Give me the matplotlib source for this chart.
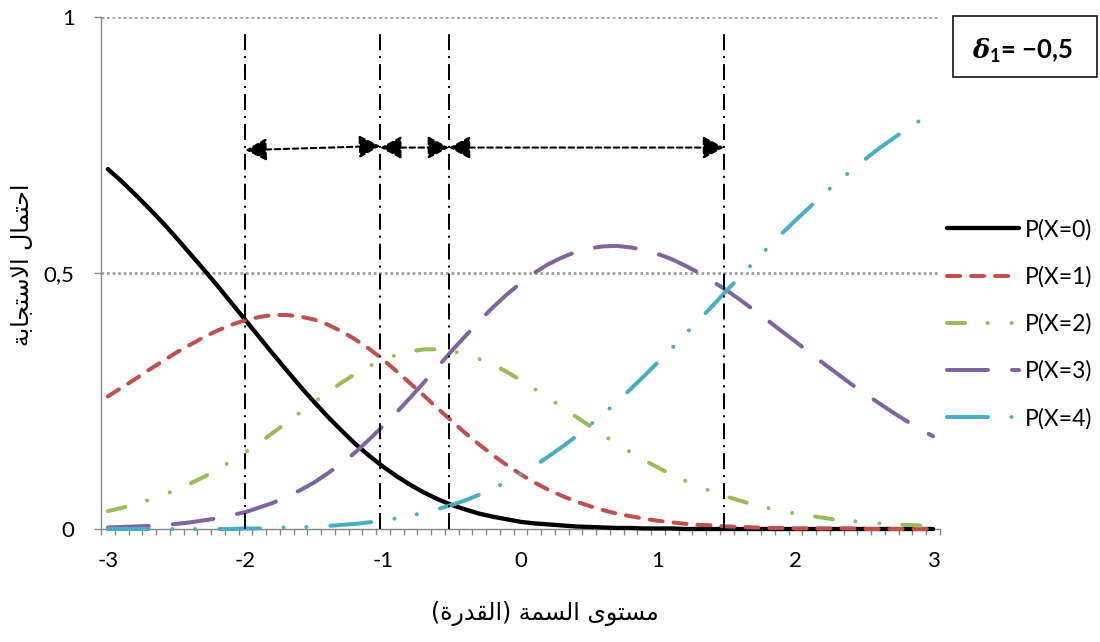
import numpy as np
import matplotlib
matplotlib.use("Agg")
import matplotlib.pyplot as plt
from matplotlib.patches import FancyArrowPatch, Rectangle

# ability levels (categories of the x axis)
theta = np.round(np.arange(-30, 31) / 10, 1)

# category response probabilities read per 0.1 step of ability
p0 = [0.703, 0.679, 0.653, 0.626, 0.598, 0.568, 0.537, 0.506, 0.474, 0.441,
      0.408, 0.375, 0.342, 0.310, 0.278, 0.248, 0.219, 0.192, 0.166, 0.143,
      0.122, 0.103, 0.086, 0.071, 0.058, 0.047, 0.038, 0.030, 0.024, 0.019,
      0.014, 0.011, 0.009, 0.007, 0.005, 0.004, 0.003, 0.002, 0.002, 0.001,
      0.001, 0.001, 0.000, 0.000, 0.000, 0.000, 0.000, 0.000, 0.000, 0.000,
      0.000, 0.000, 0.000, 0.000, 0.000, 0.000, 0.000, 0.000, 0.000, 0.000,
      0.000]
p1 = [0.259, 0.276, 0.293, 0.311, 0.328, 0.345, 0.360, 0.375, 0.388, 0.399,
      0.408, 0.414, 0.418, 0.418, 0.415, 0.409, 0.399, 0.386, 0.370, 0.352,
      0.331, 0.308, 0.284, 0.260, 0.235, 0.211, 0.187, 0.165, 0.144, 0.125,
      0.107, 0.091, 0.077, 0.065, 0.054, 0.045, 0.037, 0.030, 0.025, 0.020,
      0.016, 0.013, 0.010, 0.008, 0.007, 0.005, 0.004, 0.003, 0.002, 0.002,
      0.001, 0.001, 0.001, 0.001, 0.001, 0.000, 0.000, 0.000, 0.000, 0.000,
      0.000]
p2 = [0.035, 0.041, 0.049, 0.057, 0.066, 0.077, 0.089, 0.102, 0.117, 0.133,
      0.150, 0.168, 0.188, 0.208, 0.228, 0.248, 0.267, 0.286, 0.303, 0.318,
      0.331, 0.340, 0.347, 0.351, 0.351, 0.348, 0.341, 0.332, 0.321, 0.307,
      0.291, 0.274, 0.257, 0.238, 0.220, 0.202, 0.184, 0.166, 0.150, 0.134,
      0.120, 0.106, 0.094, 0.083, 0.072, 0.063, 0.055, 0.047, 0.041, 0.035,
      0.030, 0.026, 0.022, 0.018, 0.016, 0.013, 0.011, 0.009, 0.008, 0.007,
      0.005]
p3 = [0.003, 0.004, 0.005, 0.006, 0.008, 0.010, 0.013, 0.017, 0.021, 0.027,
      0.033, 0.042, 0.051, 0.063, 0.076, 0.091, 0.109, 0.128, 0.150, 0.175,
      0.201, 0.228, 0.257, 0.287, 0.317, 0.348, 0.377, 0.406, 0.433, 0.458,
      0.480, 0.500, 0.517, 0.530, 0.541, 0.548, 0.552, 0.553, 0.550, 0.545,
      0.537, 0.527, 0.514, 0.500, 0.483, 0.466, 0.447, 0.427, 0.407, 0.386,
      0.366, 0.345, 0.324, 0.304, 0.284, 0.265, 0.247, 0.229, 0.212, 0.196,
      0.181]
p4 = [0.000, 0.000, 0.000, 0.000, 0.000, 0.000, 0.000, 0.000, 0.000, 0.000,
      0.001, 0.001, 0.002, 0.003, 0.003, 0.005, 0.006, 0.008, 0.010, 0.013,
      0.016, 0.021, 0.026, 0.032, 0.039, 0.047, 0.056, 0.067, 0.079, 0.092,
      0.107, 0.123, 0.141, 0.160, 0.180, 0.202, 0.224, 0.248, 0.273, 0.299,
      0.326, 0.353, 0.381, 0.409, 0.437, 0.466, 0.494, 0.522, 0.550, 0.577,
      0.603, 0.628, 0.653, 0.677, 0.699, 0.721, 0.742, 0.761, 0.780, 0.797,
      0.813]

series = [p0, p1, p2, p3, p4]
labels = ["P(X=0)", "P(X=1)", "P(X=2)", "P(X=3)", "P(X=4)"]

# step boundaries marked by vertical lines, and arrow heights between them
steps = [-2.0, -1.02, -0.52, 1.48]
arrow_y = [(0.740, 0.748), (0.745, 0.745), (0.745, 0.745)]

x_ticks = [-3, -2, -1, 0, 1, 2, 3]
x_ticklabels = ["-3", "-2", "-1", "0", "1", "2", "3"]
y_ticks = [0, 0.5, 1]
y_ticklabels = ["0", "0,5", "1"]

ylabel = ("\ufe94\ufe91\ufe8e\ufea0\ufe98\ufeb3\ufefb\ufe8d "
          "\ufedd\ufe8e\ufee4\ufe98\ufea3\ufe8d")
xlabel = ("(\ufe93\ufead\ufeaa\ufed8\ufedf\ufe8d) "
          "\ufe94\ufee4\ufeb4\ufedf\ufe8d "
          "\ufeef\ufeee\ufe98\ufeb4\ufee3")
box_text = r"$\mathit{δ}_{\mathbf{1}}$= −0,5"

plt.rcParams["lines.scale_dashes"] = False
plt.rcParams["font.family"] = ["Lato", "DejaVu Sans"]
plt.rcParams["mathtext.fontset"] = "custom"
plt.rcParams["mathtext.it"] = "DejaVu Serif:italic:bold"
plt.rcParams["mathtext.bf"] = "Lato:bold"
plt.rcParams["mathtext.rm"] = "Lato:bold"

W, H = 1100, 642
fig = plt.figure(figsize=(W / 100, H / 100), dpi=100)
ax = fig.add_axes([101 / W, 1 - 529 / H, (940 - 101) / W, (529 - 17) / H])

grey = "#868686"
styles = [
    dict(color="black", lw=3.1, ls="-"),
    dict(color="#C0504D", lw=2.9, ls=(0, (9.4, 7.9))),
    dict(color="#9BBB59", lw=2.9, ls=(0, (13.0, 16.2, 0.07, 17.3, 0.07, 16.6))),
    dict(color="#8064A2", lw=2.9, ls=(0, (29.5, 17.3))),
    dict(color="#4BACC6", lw=2.9, ls=(0, (29.5, 16.9, 0.07, 16.3, 0.07, 17.3))),
]

handles = []
for k, (vals, st, lab) in enumerate(zip(series, styles, labels)):
    (ln,) = ax.plot(theta, vals, color=st["color"], lw=st["lw"], linestyle=st["ls"],
                    dash_capstyle="round", solid_capstyle="round",
                    solid_joinstyle="round", clip_on=False, zorder=5 + k, label=lab)
    handles.append(ln)

# dotted horizontal gridlines
for yv in (0.5, 1.0):
    ax.axhline(yv, color="#A0A0A0", lw=2.0, ls=(0, (2.0, 2.0)), zorder=1)

# step boundary lines
for s in steps:
    ax.plot([s, s], [0, 0.975], color="black", lw=1.45,
            ls=(0, (11.5, 4.3, 1.45, 4.3)), zorder=12)

# double-headed arrows between consecutive boundaries
for (xa, xb), (ya, yb) in zip(zip(steps[:-1], steps[1:]), arrow_y):
    arr = FancyArrowPatch((xa, ya), (xb, yb),
                          arrowstyle="<|-|>,head_length=0.65,head_width=0.35",
                          mutation_scale=20, shrinkA=0, shrinkB=0,
                          color="black", lw=1.5, linestyle=(0, (4, 2.5)),
                          zorder=13)
    ax.add_patch(arr)

ax.set_xlim(-3.05, 3.05)
ax.set_ylim(0, 1)
for side in ("top", "right"):
    ax.spines[side].set_visible(False)
for side in ("left", "bottom"):
    ax.spines[side].set_color(grey)
    ax.spines[side].set_linewidth(1.0)
    ax.spines[side].set_zorder(2)

ax.set_xticks(x_ticks)
ax.set_xticklabels(x_ticklabels)
ax.set_xticks(np.linspace(-3.05, 3.05, 62), minor=True)
ax.tick_params(axis="x", which="major", length=0, pad=16, labelsize=16)
ax.tick_params(axis="x", which="minor", length=4.3, width=1.0, color=grey,
               direction="out")
ax.set_yticks(y_ticks)
ax.set_yticklabels(y_ticklabels)
ax.tick_params(axis="y", which="major", length=5, width=1.0, color=grey,
               direction="out", pad=14, labelsize=16)

fig.text(22 / W, 1 - 265 / H, ylabel, rotation=90, ha="center", va="center",
         fontsize=17, family="DejaVu Sans")
fig.text(545 / W, 1 - 614 / H, xlabel, ha="center", va="center",
         fontsize=17, family="DejaVu Sans")

fig.legend(handles=handles, labels=labels, loc="upper left",
           bbox_to_anchor=(947 / W, 1 - 219 / H), bbox_transform=fig.transFigure,
           frameon=False, fontsize=16.5, handlelength=3.14, handletextpad=0.25,
           labelspacing=1.12, borderpad=0, borderaxespad=0)

fig.add_artist(Rectangle((953 / W, 1 - 77 / H), (1097 - 953) / W, (77 - 16) / H,
                         transform=fig.transFigure, fill=False, lw=1.1,
                         ec="black"))
fig.text(1023 / W, 1 - 51 / H, box_text, ha="center", va="center",
         fontsize=18.5, fontweight="bold")

fig.savefig("out.png", dpi=100)
